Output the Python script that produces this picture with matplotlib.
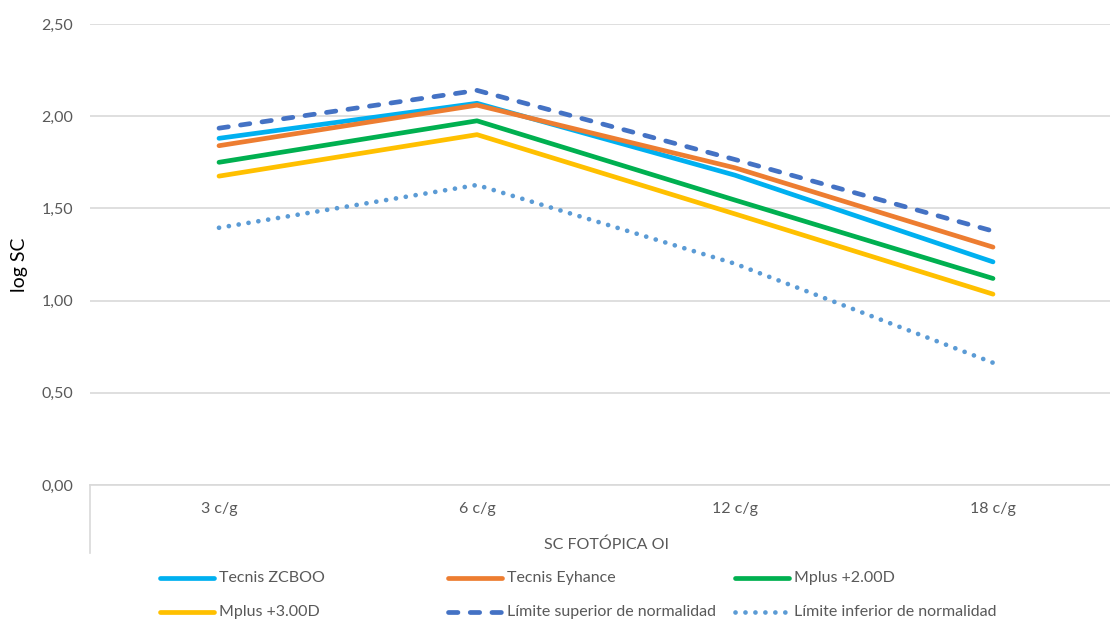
import matplotlib
matplotlib.use("Agg")
import matplotlib.pyplot as plt
from matplotlib.lines import Line2D
from matplotlib.ticker import FuncFormatter

categories = ["3 c/g", "6 c/g", "12 c/g", "18 c/g"]
tecnis_zcboo = [1.88, 2.07, 1.68, 1.21]
tecnis_eyhance = [1.84, 2.06, 1.72, 1.29]
mplus_200 = [1.75, 1.975, 1.545, 1.12]
mplus_300 = [1.675, 1.90, 1.47, 1.035]
lim_sup = [1.935, 2.14, 1.765, 1.377]
lim_inf = [1.395, 1.627, 1.20, 0.663]

series = [
    ("Tecnis ZCBOO", tecnis_zcboo, "#00B0F0", "-"),
    ("Tecnis Eyhance", tecnis_eyhance, "#ED7D31", "-"),
    ("Mplus +2.00D", mplus_200, "#00B050", "-"),
    ("Mplus +3.00D", mplus_300, "#FFC000", "-"),
    ("Límite superior de normalidad", lim_sup, "#4472C4", (0, (2.0, 2.6))),
    ("Límite inferior de normalidad", lim_inf, "#5B9BD5", (0, (0.01, 2.1))),
]

plt.rcParams["font.family"] = ["Lato", "DejaVu Sans"]
W, H = 1110, 623
fig = plt.figure(figsize=(W / 100, H / 100), dpi=100)

def fx(px):
    return px / W

def fy(py):
    return 1 - py / H

fs = 11.5
left, right, top, bottom = 90, 1122, 24, 485
ax = fig.add_axes([fx(left), fy(bottom), (right - left) / W, (bottom - top) / H])

x = list(range(len(categories)))
lw = 3.4
for name, vals, col, ls in series:
    ax.plot(x, vals, color=col, linestyle=ls, linewidth=lw,
            solid_capstyle="round", dash_capstyle="round",
            solid_joinstyle="round", label=name, clip_on=False)

ax.set_xlim(-0.5, 3.5)
ax.set_ylim(0, 2.5)
ax.set_yticks([0, 0.5, 1.0, 1.5, 2.0, 2.5])
ax.yaxis.set_major_formatter(FuncFormatter(lambda v, p: f"{v:.2f}".replace(".", ",")))
ax.set_xticks(x)
ax.set_xticklabels(categories)
ax.grid(axis="y", color="#D9D9D9", linewidth=1.2)
ax.set_axisbelow(True)
for s in ["top", "right", "left"]:
    ax.spines[s].set_visible(False)
ax.spines["bottom"].set_color("#D9D9D9")
ax.spines["bottom"].set_linewidth(1.2)
ax.tick_params(axis="both", length=0, colors="#595959", labelsize=fs)
ax.tick_params(axis="y", pad=12)
ax.tick_params(axis="x", pad=12)
ax.set_xlabel("SC FOTÓPICA OI", color="#595959", fontsize=fs, labelpad=16)

fig.text(fx(20), fy(265), "log SC", color="black", fontsize=14, rotation=90,
         ha="center", va="center")

# left border of category axis
fig.add_artist(Line2D([fx(left), fx(left)], [fy(485), fy(553)], color="#D9D9D9", linewidth=1.2))

# legend (Excel-style grid)
col_x = [160, 448, 735]
row_y = [578, 612]
for i, (name, vals, col, ls) in enumerate(series):
    r, c = divmod(i, 3)
    x0 = col_x[c]
    y0 = row_y[r]
    fig.add_artist(Line2D([fx(x0), fx(x0 + 54)], [fy(y0), fy(y0)], color=col,
                          linestyle=ls, linewidth=lw, solid_capstyle="round",
                          dash_capstyle="round"))
    fig.text(fx(x0 + 59), fy(y0), name, color="#595959", fontsize=fs,
             va="center", ha="left")

fig.savefig("out.png", dpi=100)
